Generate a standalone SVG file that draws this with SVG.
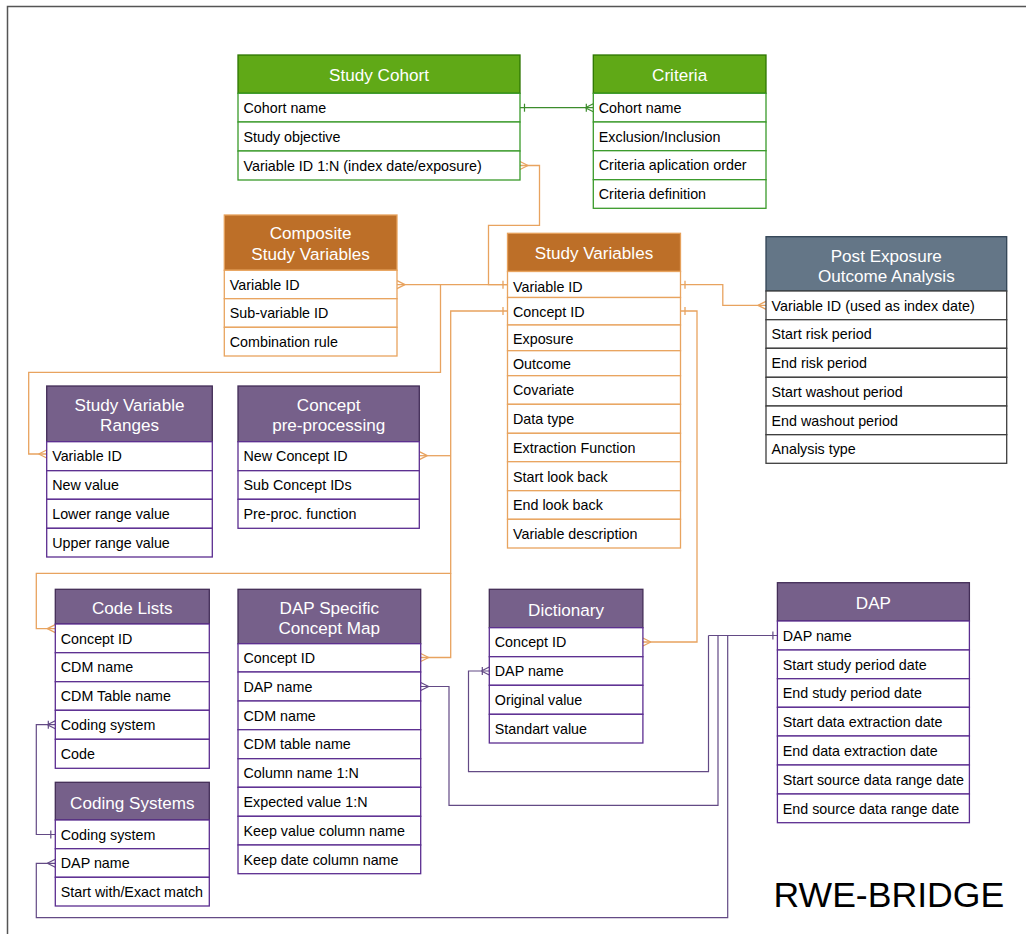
<svg xmlns="http://www.w3.org/2000/svg" width="1026" height="934" viewBox="0 0 1026 934">
<style>
text{font-family:"Liberation Sans",Arial,sans-serif}
.ht{font-size:17.1px;fill:#fff;text-anchor:middle}
.rt{font-size:14.3px;fill:#000}
.g .h{fill:#60a917;stroke:#2d7600;stroke-width:1.3}
.g .r{fill:#fff;stroke:#3a9a2a;stroke-width:1.3}
.o .h{fill:#bd6f28;stroke:#e6a15c;stroke-width:1.3}
.o .r{fill:#fff;stroke:#e8a45f;stroke-width:1.3}
.p .h{fill:#76608a;stroke:#432d57;stroke-width:1.3}
.p .r{fill:#fff;stroke:#5b2d90;stroke-width:1.3}
.s .h{fill:#647687;stroke:#314354;stroke-width:1.3}
.s .r{fill:#fff;stroke:#3d3d3d;stroke-width:1.3}
.cg{fill:none;stroke:#3c8c2c;stroke-width:1.2}
.co{fill:none;stroke:#e8a35f;stroke-width:1.3}
.cp{fill:none;stroke:#634a85;stroke-width:1.2}
</style>
<defs>
<marker id="g1" markerUnits="userSpaceOnUse" orient="auto-start-reverse" overflow="visible" markerWidth="1" markerHeight="1"><path d="M-4.5,-4V4" stroke="#3c8c2c" stroke-width="1.2" fill="none"/></marker>
<marker id="g1n" markerUnits="userSpaceOnUse" orient="auto-start-reverse" overflow="visible" markerWidth="1" markerHeight="1"><path d="M-7,-4V4M-8,0L0,-4M-8,0L0,4" stroke="#3c8c2c" stroke-width="1.2" fill="none"/></marker>
<marker id="o1" markerUnits="userSpaceOnUse" orient="auto-start-reverse" overflow="visible" markerWidth="1" markerHeight="1"><path d="M-4.5,-4V4" stroke="#e8a35f" stroke-width="1.3" fill="none"/></marker>
<marker id="on" markerUnits="userSpaceOnUse" orient="auto-start-reverse" overflow="visible" markerWidth="1" markerHeight="1"><path d="M-8,0L0,-4M-8,0L0,4" stroke="#e8a35f" stroke-width="1.3" fill="none"/></marker>
<marker id="p1" markerUnits="userSpaceOnUse" orient="auto-start-reverse" overflow="visible" markerWidth="1" markerHeight="1"><path d="M-4.5,-4V4" stroke="#634a85" stroke-width="1.2" fill="none"/></marker>
<marker id="pn" markerUnits="userSpaceOnUse" orient="auto-start-reverse" overflow="visible" markerWidth="1" markerHeight="1"><path d="M-8,0L0,-4M-8,0L0,4" stroke="#634a85" stroke-width="1.2" fill="none"/></marker>
<marker id="p1n" markerUnits="userSpaceOnUse" orient="auto-start-reverse" overflow="visible" markerWidth="1" markerHeight="1"><path d="M-7,-4V4M-8,0L0,-4M-8,0L0,4" stroke="#634a85" stroke-width="1.2" fill="none"/></marker>
</defs>
<rect width="1026" height="934" fill="#fff"/>
<rect x="7.5" y="6.5" width="1100" height="1000" fill="none" stroke="#555" stroke-width="1.5"/>

<g id="connectors">
<path class="cg" d="M520,107.7H593.3" marker-start="url(#g1)" marker-end="url(#g1n)"/>
<path class="co" d="M520,165.5H539.5V225.3H488.5V284.7H507.5" marker-start="url(#on)" marker-end="url(#o1)"/>
<path class="co" d="M397,284.7H507.5" marker-start="url(#on)"/>
<path class="co" d="M440.5,284.7V372.3H28.7V454H46.7" marker-end="url(#on)"/>
<path class="co" d="M507.5,311H450.7V573.3H36.3V628.7H55.3" marker-start="url(#o1)" marker-end="url(#on)"/>
<path class="co" d="M419.3,455.7H450.7" marker-start="url(#on)"/>
<path class="co" d="M450.7,573.3V657.5H420.7" marker-end="url(#on)"/>
<path class="co" d="M680.5,284.7H722.8V305.3H766" marker-start="url(#o1)" marker-end="url(#on)"/>
<path class="co" d="M680.5,311H697V642H642.9" marker-start="url(#o1)" marker-end="url(#on)"/>
<path class="cp" d="M777.4,635.5H708.5" marker-start="url(#p1)"/>
<path class="cp" d="M708.5,635.5V771.7H468.5V671H489.3" marker-end="url(#p1n)"/>
<path class="cp" d="M718,635.5V805.3H449V686.5H420.7" marker-end="url(#pn)"/>
<path class="cp" d="M727.7,635.5V917.7H36.3V863.3H55.3" marker-end="url(#pn)"/>
<path class="cp" d="M55.3,724.7H36.3V834.5H55.3" marker-start="url(#p1n)" marker-end="url(#p1)"/>
</g>

<g id="study-cohort" class="g">
<rect class="h" x="238" y="55" width="282" height="38.3"/>
<text class="ht" x="379" y="81">Study Cohort</text>
<rect class="r" x="238" y="93.3" width="282" height="28.7"/>
<rect class="r" x="238" y="122" width="282" height="29"/>
<rect class="r" x="238" y="151" width="282" height="29"/>
<text class="rt" x="243.5" y="112.9">Cohort name</text>
<text class="rt" x="243.5" y="141.7">Study objective</text>
<text class="rt" x="243.5" y="170.7">Variable ID 1:N (index date/exposure)</text>
</g>

<g id="criteria" class="g">
<rect class="h" x="593.3" y="55" width="172.7" height="38.3"/>
<text class="ht" x="679.6" y="81">Criteria</text>
<rect class="r" x="593.3" y="93.3" width="172.7" height="28.7"/>
<rect class="r" x="593.3" y="122" width="172.7" height="28.7"/>
<rect class="r" x="593.3" y="150.7" width="172.7" height="29"/>
<rect class="r" x="593.3" y="179.7" width="172.7" height="28.6"/>
<text class="rt" x="598.8" y="112.9">Cohort name</text>
<text class="rt" x="598.8" y="141.6">Exclusion/Inclusion</text>
<text class="rt" x="598.8" y="170.4">Criteria aplication order</text>
<text class="rt" x="598.8" y="199.2">Criteria definition</text>
</g>

<g id="composite-study-variables" class="o">
<rect class="h" x="224.3" y="215" width="172.7" height="55.3"/>
<text class="ht" x="310.6" y="239.3">Composite</text>
<text class="ht" x="310.6" y="259.8">Study Variables</text>
<rect class="r" x="224.3" y="270.3" width="172.7" height="28.4"/>
<rect class="r" x="224.3" y="298.7" width="172.7" height="28.6"/>
<rect class="r" x="224.3" y="327.3" width="172.7" height="28.7"/>
<text class="rt" x="229.8" y="289.7">Variable ID</text>
<text class="rt" x="229.8" y="318.2">Sub-variable ID</text>
<text class="rt" x="229.8" y="346.9">Combination rule</text>
</g>

<g id="study-variables" class="o">
<rect class="h" x="507.5" y="233.3" width="173" height="38.2"/>
<text class="ht" x="594" y="259.4">Study Variables</text>
<rect class="r" x="507.5" y="271.5" width="173" height="26"/>
<rect class="r" x="507.5" y="297.5" width="173" height="27.5"/>
<rect class="r" x="507.5" y="325" width="173" height="25.7"/>
<rect class="r" x="507.5" y="350.7" width="173" height="25"/>
<rect class="r" x="507.5" y="375.7" width="173" height="28.6"/>
<rect class="r" x="507.5" y="404.3" width="173" height="29"/>
<rect class="r" x="507.5" y="433.3" width="173" height="28.4"/>
<rect class="r" x="507.5" y="461.7" width="173" height="29"/>
<rect class="r" x="507.5" y="490.7" width="173" height="28.6"/>
<rect class="r" x="507.5" y="519.3" width="173" height="28.7"/>
<text class="rt" x="513" y="291.5">Variable ID</text>
<text class="rt" x="513" y="316.7">Concept ID</text>
<text class="rt" x="513" y="344.2">Exposure</text>
<text class="rt" x="513" y="369.4">Outcome</text>
<text class="rt" x="513" y="394.7">Covariate</text>
<text class="rt" x="513" y="423.7">Data type</text>
<text class="rt" x="513" y="452.6">Extraction Function</text>
<text class="rt" x="513" y="481.8">Start look back</text>
<text class="rt" x="513" y="510.2">End look back</text>
<text class="rt" x="513" y="539.2">Variable description</text>
</g>

<g id="post-exposure-outcome-analysis" class="s">
<rect class="h" x="766" y="236.7" width="240.7" height="54.3"/>
<text class="ht" x="886.3" y="261.6">Post Exposure</text>
<text class="ht" x="886.3" y="282">Outcome Analysis</text>
<rect class="r" x="766" y="291" width="240.7" height="28.7"/>
<rect class="r" x="766" y="319.7" width="240.7" height="28.6"/>
<rect class="r" x="766" y="348.3" width="240.7" height="29"/>
<rect class="r" x="766" y="377.3" width="240.7" height="28.7"/>
<rect class="r" x="766" y="406" width="240.7" height="28.7"/>
<rect class="r" x="766" y="434.7" width="240.7" height="28.6"/>
<text class="rt" x="771.5" y="310.5">Variable ID (used as index date)</text>
<text class="rt" x="771.5" y="339.2">Start risk period</text>
<text class="rt" x="771.5" y="368">End risk period</text>
<text class="rt" x="771.5" y="396.9">Start washout period</text>
<text class="rt" x="771.5" y="425.5">End washout period</text>
<text class="rt" x="771.5" y="454.2">Analysis type</text>
</g>

<g id="study-variable-ranges" class="p">
<rect class="h" x="46.7" y="386" width="165.6" height="55.7"/>
<text class="ht" x="129.5" y="410.8">Study Variable</text>
<text class="ht" x="129.5" y="431.2">Ranges</text>
<rect class="r" x="46.7" y="441.7" width="165.6" height="29"/>
<rect class="r" x="46.7" y="470.7" width="165.6" height="28.6"/>
<rect class="r" x="46.7" y="499.3" width="165.6" height="29"/>
<rect class="r" x="46.7" y="528.3" width="165.6" height="28.7"/>
<text class="rt" x="52.2" y="461.4">Variable ID</text>
<text class="rt" x="52.2" y="490.2">New value</text>
<text class="rt" x="52.2" y="519">Lower range value</text>
<text class="rt" x="52.2" y="547.9">Upper range value</text>
</g>

<g id="concept-pre-processing" class="p">
<rect class="h" x="238" y="386" width="181.3" height="55.7"/>
<text class="ht" x="328.7" y="410.8">Concept</text>
<text class="ht" x="328.7" y="431.2">pre-processing</text>
<rect class="r" x="238" y="441.7" width="181.3" height="29"/>
<rect class="r" x="238" y="470.7" width="181.3" height="28.6"/>
<rect class="r" x="238" y="499.3" width="181.3" height="29"/>
<text class="rt" x="243.5" y="461.4">New Concept ID</text>
<text class="rt" x="243.5" y="490.2">Sub Concept IDs</text>
<text class="rt" x="243.5" y="519">Pre-proc. function</text>
</g>

<g id="code-lists" class="p">
<rect class="h" x="55.3" y="589.3" width="154" height="34.7"/>
<text class="ht" x="132.3" y="614">Code Lists</text>
<rect class="r" x="55.3" y="624" width="154" height="28.7"/>
<rect class="r" x="55.3" y="652.7" width="154" height="29"/>
<rect class="r" x="55.3" y="681.7" width="154" height="28.6"/>
<rect class="r" x="55.3" y="710.3" width="154" height="29"/>
<rect class="r" x="55.3" y="739.3" width="154" height="29"/>
<text class="rt" x="60.8" y="643.5">Concept ID</text>
<text class="rt" x="60.8" y="672.4">CDM name</text>
<text class="rt" x="60.8" y="701.2">CDM Table name</text>
<text class="rt" x="60.8" y="730">Coding system</text>
<text class="rt" x="60.8" y="759">Code</text>
</g>

<g id="coding-systems" class="p">
<rect class="h" x="55.3" y="782.3" width="154" height="37.7"/>
<text class="ht" x="132.3" y="809">Coding Systems</text>
<rect class="r" x="55.3" y="820" width="154" height="28.7"/>
<rect class="r" x="55.3" y="848.7" width="154" height="28.6"/>
<rect class="r" x="55.3" y="877.3" width="154" height="28.7"/>
<text class="rt" x="60.8" y="839.5">Coding system</text>
<text class="rt" x="60.8" y="868.2">DAP name</text>
<text class="rt" x="60.8" y="896.9">Start with/Exact match</text>
</g>

<g id="dap-specific-concept-map" class="p">
<rect class="h" x="238" y="589.3" width="182.7" height="54.4"/>
<text class="ht" x="329.3" y="613.5">DAP Specific</text>
<text class="ht" x="329.3" y="634">Concept Map</text>
<rect class="r" x="238" y="643.7" width="182.7" height="28.3"/>
<rect class="r" x="238" y="672" width="182.7" height="29"/>
<rect class="r" x="238" y="701" width="182.7" height="28.7"/>
<rect class="r" x="238" y="729.7" width="182.7" height="29"/>
<rect class="r" x="238" y="758.7" width="182.7" height="28.6"/>
<rect class="r" x="238" y="787.3" width="182.7" height="29"/>
<rect class="r" x="238" y="816.3" width="182.7" height="28.7"/>
<rect class="r" x="238" y="845" width="182.7" height="28.7"/>
<text class="rt" x="243.5" y="663">Concept ID</text>
<text class="rt" x="243.5" y="691.7">DAP name</text>
<text class="rt" x="243.5" y="720.5">CDM name</text>
<text class="rt" x="243.5" y="749.4">CDM table name</text>
<text class="rt" x="243.5" y="778.2">Column name 1:N</text>
<text class="rt" x="243.5" y="807">Expected value 1:N</text>
<text class="rt" x="243.5" y="835.8">Keep value column name</text>
<text class="rt" x="243.5" y="864.5">Keep date column name</text>
</g>

<g id="dictionary" class="p">
<rect class="h" x="489.3" y="589.3" width="153.6" height="38.4"/>
<text class="ht" x="566.1" y="615.5">Dictionary</text>
<rect class="r" x="489.3" y="627.7" width="153.6" height="29"/>
<rect class="r" x="489.3" y="656.7" width="153.6" height="28.6"/>
<rect class="r" x="489.3" y="685.3" width="153.6" height="29"/>
<rect class="r" x="489.3" y="714.3" width="153.6" height="28.7"/>
<text class="rt" x="494.8" y="647.4">Concept ID</text>
<text class="rt" x="494.8" y="676.2">DAP name</text>
<text class="rt" x="494.8" y="705">Original value</text>
<text class="rt" x="494.8" y="733.8">Standart value</text>
</g>

<g id="dap" class="p">
<rect class="h" x="777.4" y="582.7" width="192" height="38.3"/>
<text class="ht" x="873.4" y="609">DAP</text>
<rect class="r" x="777.4" y="621" width="192" height="29"/>
<rect class="r" x="777.4" y="650" width="192" height="28.7"/>
<rect class="r" x="777.4" y="678.7" width="192" height="28.6"/>
<rect class="r" x="777.4" y="707.3" width="192" height="28.7"/>
<rect class="r" x="777.4" y="736" width="192" height="29"/>
<rect class="r" x="777.4" y="765" width="192" height="29"/>
<rect class="r" x="777.4" y="794" width="192" height="28.7"/>
<text class="rt" x="782.8" y="640.7">DAP name</text>
<text class="rt" x="782.8" y="669.5">Start study period date</text>
<text class="rt" x="782.8" y="698.2">End study period date</text>
<text class="rt" x="782.8" y="726.8">Start data extraction date</text>
<text class="rt" x="782.8" y="755.7">End data extraction date</text>
<text class="rt" x="782.8" y="784.7">Start source data range date</text>
<text class="rt" x="782.8" y="813.5">End source data range date</text>
</g>

<text x="773.5" y="907" style="font-size:35.6px;fill:#000">RWE-BRIDGE</text>
</svg>
